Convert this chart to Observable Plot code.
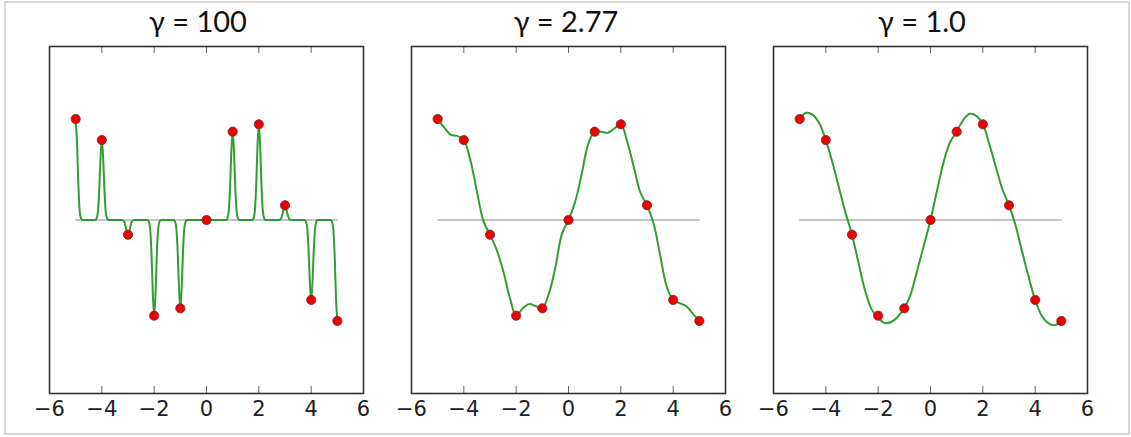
<!DOCTYPE html>
<html>
<head>
<meta charset="utf-8">
<script src="https://cdn.jsdelivr.net/npm/d3@7"></script>
<script src="https://cdn.jsdelivr.net/npm/@observablehq/plot@0.6"></script>
<style>
  html, body { margin: 0; padding: 0; background: #fff; }
  #root { position: relative; width: 1131px; height: 437px; overflow: hidden; background: #fff; }
  #border { position: absolute; left: 4px; top: 1px; width: 1122px; height: 430px; border: 2px solid #d6d6d6; }
  .title { position: absolute; top: 6px; width: 300px; text-align: center; font-family: Lato, "Open Sans", sans-serif; font-size: 29px; line-height: 1; color: #111; white-space: nowrap; }
  .panel { position: absolute; top: 36px; }
</style>
</head>
<body>
<div id="root"><div id="border"></div></div>
<script>
// ---- data ----
const xs = [-5, -4, -3, -2, -1, 0, 1, 2, 3, 4, 5];
const ys = [0.96, 0.76, -0.14, -0.91, -0.84, 0, 0.84, 0.91, 0.14, -0.76, -0.96];

const titles = ["γ = 100", "γ = 2.77", "γ = 1.0"];
const titleCenters = [198, 566, 922];
const frameLefts = [49, 411, 773];

const xTicks = [-6, -4, -2, 0, 2, 4, 6];
const xTickLabels = ["−6", "−4", "−2", "0", "2", "4", "6"];

// narrow spike profile seen around each point in the γ = 100 panel
const spikeOffsets = [-0.25, -0.2, -0.15, -0.1, -0.05, 0, 0.05, 0.1, 0.15, 0.2, 0.25];
const spikeShape   = [0, 0.02, 0.1, 0.37, 0.78, 1, 0.78, 0.37, 0.1, 0.02, 0];

// fitted curves of the γ = 2.77 and γ = 1.0 panels
const fitX = [-5, -4.75, -4.5, -4.25, -4, -3.75, -3.5, -3.25, -3, -2.75, -2.5, -2.25, -2, -1.75, -1.5, -1.25, -1, -0.75, -0.5, -0.25,
              0, 0.25, 0.5, 0.75, 1, 1.25, 1.5, 1.75, 2, 2.25, 2.5, 2.75, 3, 3.25, 3.5, 3.75, 4, 4.25, 4.5, 4.75, 5];
const fitG277 = [0.96, 0.88, 0.81, 0.80, 0.76, 0.57, 0.27, -0.01, -0.14, -0.28, -0.48, -0.73, -0.91, -0.84, -0.80, -0.82, -0.84, -0.70, -0.45, -0.13,
                 0, 0.17, 0.43, 0.72, 0.84, 0.84, 0.83, 0.87, 0.91, 0.74, 0.50, 0.26, 0.14, -0.03, -0.33, -0.63, -0.76, -0.79, -0.82, -0.89, -0.96];
const fitG1 = [0.96, 1.02, 1.00, 0.92, 0.76, 0.55, 0.31, 0.07, -0.14, -0.41, -0.67, -0.85, -0.93, -0.98, -0.97, -0.92, -0.84, -0.70, -0.47, -0.24,
               0, 0.28, 0.55, 0.74, 0.84, 0.95, 1.01, 0.99, 0.91, 0.72, 0.50, 0.29, 0.14, -0.05, -0.30, -0.54, -0.76, -0.91, -0.98, -1.00, -0.96];

const yDomain = [-1.65, 1.65];
const xDomain = [-6, 6];

// ---- build tables ----
const points = xs.map((x, i) => ({x, y: ys[i]}));
const spikes = [];
xs.forEach((xi, i) => {
  spikeOffsets.forEach((o, k) => {
    const x = xi + o;
    if (x >= xs[0] - 1e-9 && x <= xs[xs.length - 1] + 1e-9) spikes.push({x, y: ys[i] * spikeShape[k]});
  });
});
const curves = [
  {data: spikes, curve: "monotone-x"},
  {data: fitX.map((x, i) => ({x, y: fitG277[i]})), curve: "catmull-rom"},
  {data: fitX.map((x, i) => ({x, y: fitG1[i]})), curve: "catmull-rom"}
];
const zeroLine = [{x: xs[0], y: 0}, {x: xs[xs.length - 1], y: 0}];

const root = document.getElementById("root");
const mL = 20, mR = 20, mT = 10, mB = 40;
const fw = 314, fh = 347;

curves.forEach((c, p) => {
  const t = document.createElement("div");
  t.className = "title";
  t.textContent = titles[p];
  t.style.left = (titleCenters[p] - 150) + "px";
  root.appendChild(t);

  const chart = Plot.plot({
    width: fw + mL + mR,
    height: fh + mT + mB,
    marginLeft: mL, marginRight: mR, marginTop: mT, marginBottom: mB,
    style: {fontFamily: "'DejaVu Sans', sans-serif", fontSize: "20px", color: "#222", background: "transparent", overflow: "visible"},
    x: {domain: xDomain, label: null},
    y: {domain: yDomain, axis: null},
    marks: [
      Plot.line(zeroLine, {x: "x", y: "y", stroke: "#8a8a8a", strokeWidth: 1.2}),
      Plot.line(c.data, {x: "x", y: "y", curve: c.curve, stroke: "#249a24", strokeWidth: 2, strokeOpacity: 0.95}),
      Plot.dot(points, {x: "x", y: "y", r: 4.6, fill: "#ee0000", stroke: "#7a3030", strokeWidth: 0.9}),
      Plot.ruleX(xTicks, {insetTop: fh - 7, stroke: "#666", strokeWidth: 1}),
      Plot.ruleX(xTicks, {insetBottom: fh - 7, stroke: "#666", strokeWidth: 1}),
      Plot.axisX({ticks: xTicks, tickFormat: d => xTickLabels[xTicks.indexOf(d)], tickSize: 0, tickPadding: 8, fontSize: 21, fill: "#222", label: null}),
      Plot.frame({stroke: "#333", strokeWidth: 1.6})
    ]
  });
  const wrap = document.createElement("div");
  wrap.className = "panel";
  wrap.style.left = (frameLefts[p] - mL) + "px";
  wrap.appendChild(chart);
  root.appendChild(wrap);
});
</script>
</body>
</html>
